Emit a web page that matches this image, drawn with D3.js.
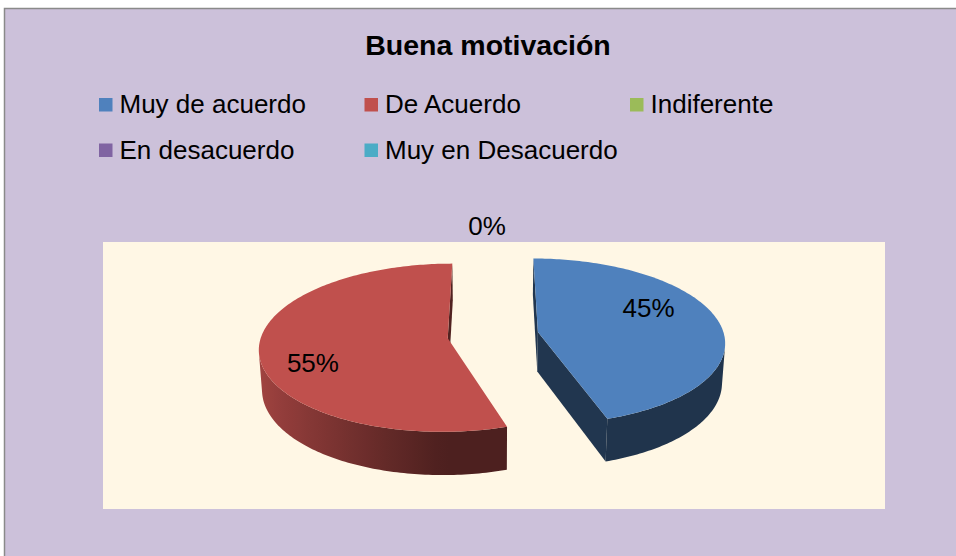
<!DOCTYPE html>
<html>
<head>
<meta charset="utf-8">
<script src="https://cdn.jsdelivr.net/npm/d3@7"></script>
<style>
  body { margin: 0; background: #fff; }
  svg { display: block; }
  text { font-family: "Liberation Sans", Arial, sans-serif; fill: #000; }
</style>
</head>
<body>
<svg id="chart" width="956" height="556"></svg>
<script>
var title = "Buena motivación";
var categories = ["Muy de acuerdo", "De Acuerdo", "Indiferente", "En desacuerdo", "Muy en Desacuerdo"];
var values = [45, 55, 0, 0, 0];
var colors = ["#4f81bd", "#c0504d", "#9bbb59", "#8064a2", "#4bacc6"];

var svg = d3.select("#chart");
var defs = svg.append("defs");

// chart area + plot area
svg.append("rect")
  .attr("x", 4.5).attr("y", 8.5)
  .attr("width", 970).attr("height", 570)
  .attr("fill", "#ccc1da")
  .attr("stroke", "#8a8a8a")
  .attr("stroke-width", 1.5);

svg.append("rect")
  .attr("x", 103).attr("y", 242)
  .attr("width", 782).attr("height", 267)
  .attr("fill", "#fff7e5");

svg.append("text")
  .attr("x", 488).attr("y", 55)
  .attr("text-anchor", "middle")
  .style("font-size", "28.5px")
  .style("font-weight", "bold")
  .text(title);

// legend
var legend = svg.append("g").selectAll("g")
  .data(categories)
  .enter().append("g")
  .attr("transform", function(d, i) {
    return "translate(" + (99 + (i % 3) * 265.5) + "," + (98 + Math.floor(i / 3) * 45.5) + ")";
  });

legend.append("rect")
  .attr("width", 13.5).attr("height", 13.5)
  .attr("fill", function(d, i) { return colors[i]; });

legend.append("text")
  .attr("x", 20.5).attr("y", 15)
  .style("font-size", "26px")
  .text(function(d) { return d; });

// 3d pie
var cx = 493, cy = 355;
var alpha = 27 * Math.PI / 180;
var D = 8, R0 = 185, h = 0.24, explode = 0.245;

function project(X, Y, Z) {
  var y1 = Y * Math.cos(alpha) - Z * Math.sin(alpha);
  var z1 = Y * Math.sin(alpha) + Z * Math.cos(alpha);
  var s = R0 * D / (D - z1);
  return [cx + X * s, cy - y1 * s, z1];
}

var pie = d3.pie().sort(null).value(function(d) { return d; });
var arcs = pie(values);
var total = d3.sum(values);

function area(pts) {
  var a = 0;
  for (var i = 0; i < pts.length; i++) {
    var p = pts[i], q = pts[(i + 1) % pts.length];
    a += p[0] * q[1] - q[0] * p[1];
  }
  return a / 2;
}

function shade(c, k) {
  var col = d3.rgb(c);
  return d3.rgb(col.r * k, col.g * k, col.b * k).formatHex();
}
function wallShade(th) { return 0.4 + 0.45 * Math.max(0, -Math.sin(th)); }

var line = d3.line();
function xy(p) { return [p[0], p[1]]; }
var pieG = svg.append("g");

arcs.forEach(function(a, i) {
  if (a.value === 0) return;
  var mid = (a.startAngle + a.endAngle) / 2;
  var ox = explode * Math.sin(mid), oz = -explode * Math.cos(mid);
  function pt(r, th, Y) {
    return project(ox + r * Math.sin(th), Y, oz - r * Math.cos(th));
  }
  var n = Math.max(2, Math.ceil((a.endAngle - a.startAngle) / (Math.PI / 180)));
  var angs = d3.range(n + 1).map(function(k) { return a.startAngle + (a.endAngle - a.startAngle) * k / n; });
  var top = angs.map(function(th) { return pt(1, th, h / 2); });
  var bot = angs.map(function(th) { return pt(1, th, -h / 2); });
  var apexT = pt(0, 0, h / 2), apexB = pt(0, 0, -h / 2);

  var faces = [];
  // cut faces
  var f0 = [apexT, top[0], bot[0], apexB];
  var f1 = [apexT, apexB, bot[n], top[n]];
  [f0, f1].forEach(function(f) {
    if (area(f) < 0) faces.push({ pts: f, fill: shade(colors[i], 0.42), z: d3.mean(f, function(p) { return p[2]; }) });
  });

  // outer wall: group visible quads into runs, one gradient polygon per run
  var vis = d3.range(n).map(function(k) { return area([top[k], top[k + 1], bot[k + 1], bot[k]]) < 0; });
  var k = 0;
  while (k < n) {
    if (!vis[k]) { k++; continue; }
    var s = k;
    while (k < n && vis[k]) k++;
    var e = k;
    var ptsT = top.slice(s, e + 1), ptsB = bot.slice(s, e + 1).reverse();
    var x1 = top[s][0], x2 = top[e][0];
    var gid = "wall" + i + "_" + s;
    var grad = defs.append("linearGradient").attr("id", gid)
      .attr("gradientUnits", "userSpaceOnUse")
      .attr("x1", x1).attr("x2", x2).attr("y1", 0).attr("y2", 0);
    for (var j = s; j <= e; j += 4) {
      var off = x2 === x1 ? 0 : (top[j][0] - x1) / (x2 - x1);
      grad.append("stop").attr("offset", Math.max(0, Math.min(1, off)))
        .attr("stop-color", shade(colors[i], wallShade(angs[j])));
    }
    var poly = ptsT.concat(ptsB);
    faces.push({ pts: poly, fill: "url(#" + gid + ")", z: d3.mean(poly, function(p) { return p[2]; }) });
  }

  faces.sort(function(p, q) { return p.z - q.z; });

  pieG.selectAll(null)
    .data(faces)
    .enter().append("path")
    .attr("d", function(f) { return line(f.pts.map(xy)) + "Z"; })
    .attr("fill", function(f) { return f.fill; });

  pieG.append("path")
    .attr("d", line([apexT].concat(top).map(xy)) + "Z")
    .attr("fill", colors[i]);
});

// data labels (zero slices share one spot, so draw it once)
var drawn = {};
arcs.forEach(function(a, i) {
  var mid = (a.startAngle + a.endAngle) / 2;
  var ox = explode * Math.sin(mid), oz = -explode * Math.cos(mid);
  var th, r;
  if (a.value === 0) { th = mid; r = 1.3; }
  else { th = mid - 15 * Math.PI / 180; r = 0.72; }
  var p = project(ox + r * Math.sin(th), h / 2, oz - r * Math.cos(th));
  var key = Math.round(p[0]) + "," + Math.round(p[1]);
  if (drawn[key]) return;
  drawn[key] = true;
  svg.append("text")
    .attr("x", p[0] - 6).attr("y", p[1] - 1)
    .attr("dy", "0.35em")
    .attr("text-anchor", "middle")
    .style("font-size", "26px")
    .text(Math.round(a.value / total * 100) + "%");
});
</script>
</body>
</html>
